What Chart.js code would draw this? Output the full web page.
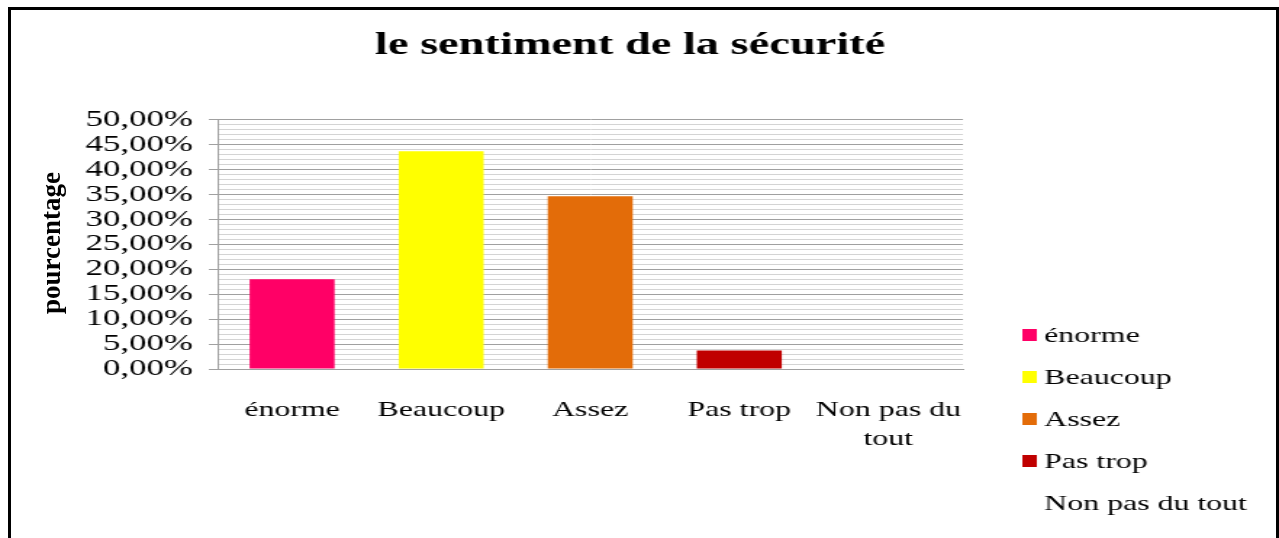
<!DOCTYPE html>
<html>
<head>
<meta charset="utf-8">
<script src="https://cdn.jsdelivr.net/npm/chart.js@4.4.1/dist/chart.umd.min.js"></script>
<style>
  html, body { margin: 0; padding: 0; background: #fff; overflow: hidden; }
  #wrap { position: relative; width: 1279px; height: 538px; overflow: hidden; }
  /* the original picture is stretched sideways, so the canvas is drawn narrow and widened here */
  #chart { position: absolute; left: 0; top: 0; transform-origin: 0 0; transform: scaleX(1.4501); }
  #frame { position: absolute; left: 8px; top: 7px; width: 1265px; height: 600px; border: 3px solid #000; border-bottom: none; pointer-events: none; }
  #ytitle { position: absolute; left: 51px; top: 243px; transform: translate(-50%, -50%) rotate(-90deg);
            font: bold 27px 'Liberation Serif', 'Times New Roman', serif; color: #000; white-space: nowrap; }
</style>
</head>
<body>
<div id="wrap">
  <canvas id="chart" width="882" height="538"></canvas>
  <div id="ytitle">pourcentage</div>
  <div id="frame"></div>
</div>
<script>
const categories = ['énorme', 'Beaucoup', 'Assez', 'Pas trop', ['Non pas du', 'tout']];
const legendLabels = ['énorme', 'Beaucoup', 'Assez', 'Pas trop', 'Non pas du tout'];
const percentages = [18.0, 43.6, 34.6, 3.7, 0];
const barColors = ['#ff0066', '#ffff00', '#e36c09', '#c00000', 'rgba(0,0,0,0)'];
const majorTicks = [0, 5, 10, 15, 20, 25, 30, 35, 40, 45, 50];

const serif = "'Liberation Serif', 'Times New Roman', serif";

function fmtPct(v) {
    return v.toFixed(2).replace('.', ',') + '%';
}

function isMajor(v) {
    return majorTicks.includes(v);
}

// legend drawn at the lower right, one row per category
const sideLegend = {
    id: 'sideLegend',
    afterDraw(chart) {
        const ctx = chart.ctx;
        ctx.save();
        ctx.font = '22px ' + serif;
        ctx.textBaseline = 'middle';
        ctx.textAlign = 'left';
        legendLabels.forEach((txt, i) => {
            const y = 335 + i * 42;
            ctx.fillStyle = barColors[i];
            ctx.fillRect(705, y - 6, 10, 12);
            ctx.fillStyle = '#000';
            ctx.fillText(txt, 720, y + 1);
        });
        ctx.restore();
    }
};

new Chart(document.getElementById('chart'), {
    type: 'bar',
    data: {
        labels: categories,
        datasets: [{
            data: percentages,
            backgroundColor: barColors,
            barPercentage: 0.57,
            categoryPercentage: 1
        }]
    },
    options: {
        responsive: false,
        animation: false,
        devicePixelRatio: 1,
        layout: { padding: { left: 0, right: 13, top: 0, bottom: 0 } },
        plugins: {
            legend: { display: false },
            tooltip: { enabled: false },
            title: {
                display: true,
                text: 'le sentiment de la sécurité',
                color: '#000',
                font: { family: serif, size: 32, weight: 'bold' },
                padding: { top: 27, bottom: 54 }
            }
        },
        scales: {
            x: {
                grid: { display: false, drawTicks: false },
                border: { color: '#a0a0a0' },
                ticks: {
                    color: '#000',
                    font: { family: serif, size: 22, lineHeight: 1.3 },
                    padding: 27,
                    maxRotation: 0,
                    autoSkip: false
                },
                afterFit: s => { s.height = 169; }
            },
            y: {
                min: 0,
                max: 50,
                ticks: {
                    stepSize: 1,
                    autoSkip: false,
                    color: '#000',
                    font: { family: serif, size: 24 },
                    padding: 11,
                    callback: v => isMajor(v) ? fmtPct(v) : ''
                },
                grid: {
                    color: c => isMajor(c.tick.value) ? '#a0a0a0' : '#d4d4d4',
                    tickColor: c => isMajor(c.tick.value) ? '#a0a0a0' : 'rgba(0,0,0,0)',
                    tickLength: 6
                },
                border: { color: '#a0a0a0' },
                afterFit: s => { s.width = 150; }
            },
            // empty axis that keeps the room for the legend on the right
            side: {
                type: 'linear',
                position: 'right',
                grid: { display: false },
                ticks: { display: false },
                border: { display: false },
                afterFit: s => { s.width = 205; }
            }
        }
    },
    plugins: [sideLegend]
});
</script>
</body>
</html>
